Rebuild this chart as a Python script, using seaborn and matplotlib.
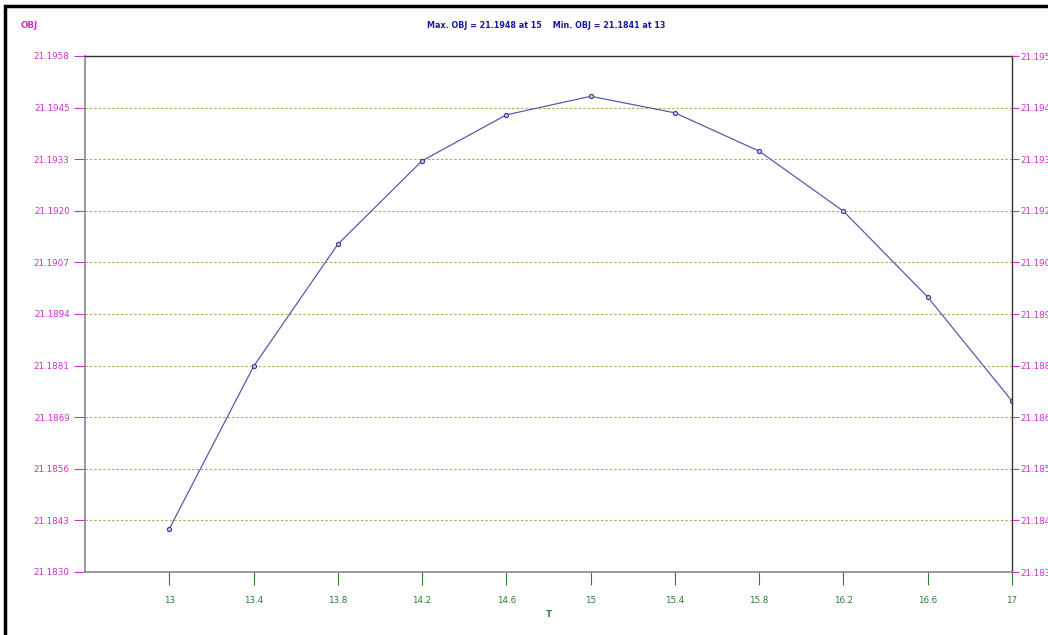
import numpy as np
import pandas as pd
import matplotlib
matplotlib.use("Agg")
import matplotlib.pyplot as plt
import seaborn as sns
from matplotlib.patches import Rectangle

# values
t_values = [13, 13.4, 13.8, 14.2, 14.6, 15, 15.4, 15.8, 16.2, 16.6, 17]
obj_values = [21.18407, 21.1881, 21.19113, 21.1932, 21.19434, 21.1948,
              21.19439, 21.19344, 21.19195, 21.18982, 21.18724]
x_ticks = [13, 13.4, 13.8, 14.2, 14.6, 15, 15.4, 15.8, 16.2, 16.6, 17]
x_tick_labels = ["13", "13.4", "13.8", "14.2", "14.6", "15", "15.4", "15.8", "16.2", "16.6", "17"]
y_tick_labels = ["21.1830", "21.1843", "21.1856", "21.1869", "21.1881", "21.1894",
                 "21.1907", "21.1920", "21.1933", "21.1945", "21.1958"]
y_min, y_max = 21.1830, 21.1958
title_text = "Max. OBJ = 21.1948 at 15    Min. OBJ = 21.1841 at 13"

df = pd.DataFrame({"T": t_values, "OBJ": obj_values})

sns.set_style("white")
plt.rcParams["font.family"] = ["DejaVu Sans"]

magenta = "#cc33cc"
green = "#2e7d32"
navy = "#1a1a99"

fig = plt.figure(figsize=(10.48, 6.35), dpi=100)
ax = fig.add_axes([85 / 1048, 1 - 572 / 635, (1012 - 85) / 1048, (572 - 56) / 635])

sns.lineplot(data=df, x="T", y="OBJ", ax=ax, color="#5a5aaa", lw=0.9,
             marker="o", markersize=3, markerfacecolor="#c8c8e8",
             markeredgecolor="#3a3a90", markeredgewidth=0.8)

y_ticks = np.linspace(y_min, y_max, len(y_tick_labels))
ax.set_xlim(12.6, 17)
ax.set_ylim(y_min, y_max)
ax.set_xticks(x_ticks)
ax.set_xticklabels(x_tick_labels)
ax.set_yticks(y_ticks)
ax.set_yticklabels(y_tick_labels)

ax.grid(axis="y", linestyle=(0, (2, 2)), color="#a8a850", lw=0.8)
ax.grid(axis="x", visible=False)

ax.tick_params(axis="x", colors=green, labelsize=6.3, length=9, width=0.8, pad=8,
               direction="out", bottom=True)
ax.tick_params(axis="y", colors=magenta, labelsize=6.3, length=8, width=0.8, pad=3,
               direction="out", left=True)

ax.set_xlabel("T", color=green, fontsize=6.3, fontweight="bold", labelpad=4)
ax.set_ylabel("")

for side in ["left", "bottom"]:
    ax.spines[side].set_color("#888888")
    ax.spines[side].set_linewidth(1.2)
for side in ["top", "right"]:
    ax.spines[side].set_color("#333333")
    ax.spines[side].set_linewidth(1.0)

# right-hand axis repeats the OBJ scale
ax2 = ax.twinx()
ax2.set_ylim(y_min, y_max)
ax2.set_yticks(y_ticks)
ax2.set_yticklabels(y_tick_labels)
ax2.tick_params(axis="y", colors=magenta, labelsize=6.3, length=5, width=0.8, pad=1)
ax2.grid(False)
for sp in ax2.spines.values():
    sp.set_visible(False)

fig.text(21 / 1048, 1 - 25 / 635, "OBJ", color=magenta, fontsize=6.3,
         fontweight="bold", va="center", ha="left")
fig.text(546 / 1048, 1 - 25 / 635, title_text, color=navy, fontsize=5.8,
         fontweight="bold", va="center", ha="center")

# screenshot frame
fig.patches.append(Rectangle((0.005, -0.01), 1.1, 1.0, transform=fig.transFigure,
                             fill=False, edgecolor="black", lw=2.5))

fig.savefig("out.png", dpi=100)
